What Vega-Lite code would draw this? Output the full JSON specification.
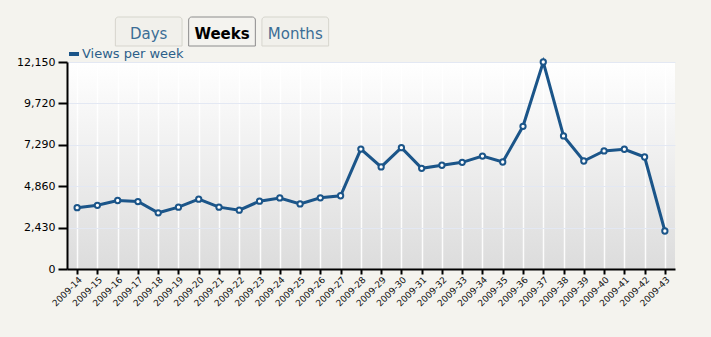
{
  "$schema": "https://vega.github.io/schema/vega-lite/v6.json",
  "background": "#f4f3ee",
  "padding": {"left": 16, "top": 16, "right": 36, "bottom": 29},
  "spacing": 0,
  "config": {
    "font": "DejaVu Sans",
    "view": {"stroke": null}
  },
  "resolve": {"legend": {"color": "independent"}},
  "vconcat": [
    {
      "width": 310,
      "height": 29,
      "data": {"values": [{"tab": "Days"}, {"tab": "Weeks"}, {"tab": "Months"}]},
      "encoding": {
        "x": {"field": "tab", "type": "nominal", "sort": null, "axis": null,
              "scale": {"paddingInner": 0.09, "paddingOuter": 0.66}}
      },
      "layer": [
        {
          "mark": {"type": "rect", "cornerRadiusTopLeft": 3, "cornerRadiusTopRight": 3, "strokeWidth": 1},
          "encoding": {
            "fill": {"condition": {"test": "datum.tab === 'Weeks'", "value": "#f4f3ef"}, "value": "#f1f0eb"},
            "stroke": {"condition": {"test": "datum.tab === 'Weeks'", "value": "#8c8c8c"}, "value": "#d6d5cd"}
          }
        },
        {
          "transform": [{"filter": "datum.tab !== 'Weeks'"}],
          "mark": {"type": "text", "fontSize": 15, "baseline": "middle", "dy": 2, "color": "#3b6d95"},
          "encoding": {"text": {"field": "tab"}}
        },
        {
          "transform": [{"filter": "datum.tab === 'Weeks'"}],
          "mark": {"type": "text", "fontSize": 15, "fontWeight": "bold", "baseline": "middle", "dy": 2, "color": "#000000"},
          "encoding": {"text": {"field": "tab"}}
        }
      ]
    },
    {
      "width": 608,
      "height": 207,
      "view": {
        "stroke": null,
        "fill": {"gradient": "linear", "x1": 0, "y1": 0, "x2": 0, "y2": 1,
                 "stops": [{"offset": 0, "color": "#ffffff"}, {"offset": 1, "color": "#dcdcdc"}]}
      },
      "data": {"values": [
        {"week": "2009-14", "views": 3600},
        {"week": "2009-15", "views": 3740},
        {"week": "2009-16", "views": 4020},
        {"week": "2009-17", "views": 3960},
        {"week": "2009-18", "views": 3300},
        {"week": "2009-19", "views": 3630},
        {"week": "2009-20", "views": 4100},
        {"week": "2009-21", "views": 3630},
        {"week": "2009-22", "views": 3450},
        {"week": "2009-23", "views": 3980},
        {"week": "2009-24", "views": 4170},
        {"week": "2009-25", "views": 3820},
        {"week": "2009-26", "views": 4180},
        {"week": "2009-27", "views": 4300},
        {"week": "2009-28", "views": 7040},
        {"week": "2009-29", "views": 5990},
        {"week": "2009-30", "views": 7120},
        {"week": "2009-31", "views": 5910},
        {"week": "2009-32", "views": 6090},
        {"week": "2009-33", "views": 6260},
        {"week": "2009-34", "views": 6630},
        {"week": "2009-35", "views": 6280},
        {"week": "2009-36", "views": 8375},
        {"week": "2009-37", "views": 12150},
        {"week": "2009-38", "views": 7810},
        {"week": "2009-39", "views": 6340},
        {"week": "2009-40", "views": 6930},
        {"week": "2009-41", "views": 7030},
        {"week": "2009-42", "views": 6575},
        {"week": "2009-43", "views": 2230}
      ]},
      "encoding": {
        "x": {"field": "week", "type": "ordinal", "title": null,
              "scale": {"type": "point", "padding": 0.5},
              "axis": {"labelAngle": -45, "labelAlign": "right", "labelBaseline": "top",
                       "labelFontSize": 9, "labelColor": "#111111", "labelPadding": 1,
                       "domainColor": "#000000", "domainWidth": 2,
                       "tickColor": "#000000", "tickWidth": 2, "tickSize": 5,
                       "grid": true, "gridColor": "#ffffff", "gridWidth": 1.5, "gridOpacity": 0.9}},
        "y": {"field": "views", "type": "quantitative", "title": null,
              "scale": {"domain": [0, 12150], "nice": false},
              "axis": {"values": [0, 2430, 4860, 7290, 9720, 12150], "format": ",d",
                       "labelFontSize": 11, "labelColor": "#000000", "labelPadding": 3,
                       "domainColor": "#000000", "domainWidth": 2,
                       "tickColor": "#000000", "tickWidth": 2, "tickSize": 9,
                       "grid": true, "gridColor": "#e3e8f3", "gridWidth": 1}}
      },
      "layer": [
        {
          "mark": {"type": "line", "strokeWidth": 3},
          "encoding": {
            "color": {"datum": "Views per week", "type": "nominal",
                      "scale": {"range": ["#1b5589"]},
                      "legend": {"orient": "top", "title": null, "offset": 0, "padding": 0,
                                 "symbolType": "stroke", "symbolStrokeWidth": 4, "symbolSize": 100,
                                 "labelFontSize": 13, "labelColor": "#2c5f8a", "labelOffset": 1}}
          }
        },
        {
          "mark": {"type": "point", "filled": true, "fill": "#ffffff", "stroke": "#1b5589", "strokeWidth": 2, "size": 28, "opacity": 1},
          "encoding": {}
        }
      ]
    }
  ]
}
